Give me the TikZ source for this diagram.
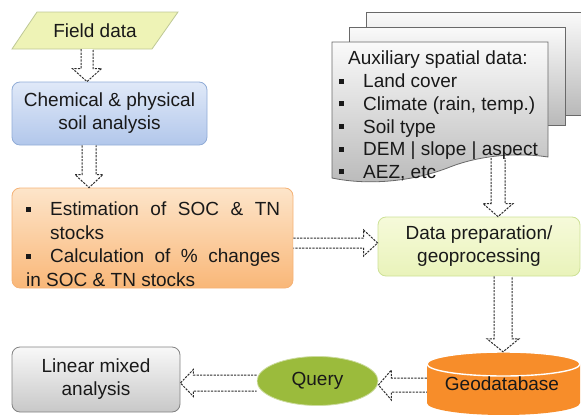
\documentclass[tikz,border=0pt]{standalone}
\usepackage{fontspec}
\setmainfont{Liberation Sans}
\usetikzlibrary{shapes.geometric,calc}
\definecolor{txt}{RGB}{25,25,25}
\definecolor{fieldfill}{RGB}{238,243,182}
\definecolor{fieldline}{RGB}{190,200,150}
\definecolor{chemtop}{RGB}{224,233,248}
\definecolor{chembot}{RGB}{178,199,235}
\definecolor{chemline}{RGB}{145,172,215}
\definecolor{ortop}{RGB}{253,229,202}
\definecolor{orbot}{RGB}{249,183,120}
\definecolor{orline}{RGB}{245,178,118}
\definecolor{dptop}{RGB}{246,250,218}
\definecolor{dpbot}{RGB}{233,243,186}
\definecolor{dpline}{RGB}{205,225,150}
\definecolor{geofill}{RGB}{247,141,42}
\definecolor{qfill}{RGB}{155,187,60}
\definecolor{qline}{RGB}{205,220,160}
\definecolor{lintop}{RGB}{248,248,248}
\definecolor{linbot}{RGB}{200,200,200}
\definecolor{linline}{RGB}{130,130,130}
\definecolor{doctop}{RGB}{250,250,250}
\definecolor{docbot}{RGB}{185,185,185}
\definecolor{docline}{RGB}{105,105,105}
\definecolor{arrline}{RGB}{45,45,45}
\newcommand\sqb{\makebox[24pt][l]{\rule[4pt]{5pt}{5pt}}}
% vertical hollow arrow pointing down: #1 x, #2 start, #3 end, #4 shaft half, #5 head half
\newcommand\vdarr[5]{\draw[hol] let \p1=(#2), \p2=(#3) in
  (#1pt-#4pt,\y1) -- (#1pt-#4pt,\y2+13pt) -- (#1pt-#5pt,\y2+13pt) -- (#1pt,\y2)
  -- (#1pt+#5pt,\y2+13pt) -- (#1pt+#4pt,\y2+13pt) -- (#1pt+#4pt,\y1);}
% horizontal hollow arrow pointing right: #1 y
\newcommand\hrarr[5]{\draw[hol] let \p1=(#2), \p2=(#3) in
  (\x1,-#1pt+#4pt) -- (\x2-14pt,-#1pt+#4pt) -- (\x2-14pt,-#1pt+#5pt) -- (\x2,-#1pt)
  -- (\x2-14pt,-#1pt-#5pt) -- (\x2-14pt,-#1pt-#4pt) -- (\x1,-#1pt-#4pt);}
% horizontal hollow arrow pointing left: #1 y
\newcommand\hlarr[5]{\draw[hol] let \p1=(#2), \p2=(#3) in
  (\x1,-#1pt+#4pt) -- (\x2+13pt,-#1pt+#4pt) -- (\x2+13pt,-#1pt+#5pt) -- (\x2,-#1pt)
  -- (\x2+13pt,-#1pt-#5pt) -- (\x2+13pt,-#1pt-#4pt) -- (\x1,-#1pt-#4pt);}
\begin{document}
\begin{tikzpicture}[x=1pt,y=-1pt,
  font=\fontsize{19}{23}\selectfont, text=txt,
  hol/.style={draw=arrline, fill=white, line width=1pt, dash pattern=on 2.2pt off 1.2pt},
  box/.style={rectangle, rounded corners=8pt, line width=0.8pt, align=center, inner sep=0pt},
  doc/.style={draw=docline, line width=0.8pt, top color=doctop, bottom color=docbot}]
\useasboundingbox (0,0) rectangle (581,415);

% ---- field data ----
\fill[fieldfill, draw=fieldline, line width=0.8pt] (37,12) -- (178,12) -- (152,49) -- (12,49) -- cycle;
\node[minimum width=140pt, minimum height=37pt, inner sep=0pt] (field) at (95,30.5) {Field data};

% ---- boxes ----
\node[box, draw=chemline, top color=chemtop, bottom color=chembot,
  minimum width=195pt, minimum height=63pt] (chem) at (109.5,113.5)
  {Chemical \& physical\\soil analysis};
\node[box, draw=orline, top color=ortop, bottom color=orbot,
  minimum width=281pt, minimum height=100pt] (orange) at (152.5,238) {};
\node[anchor=north west, text width=254pt, align=justify, inner sep=0pt,
  font=\fontsize{19}{23.4}\selectfont] (ortext) at (26,202)
  {\parindent=0pt
   \hangindent=24pt\hangafter=1\sqb Estimation of SOC \& TN\linebreak stocks\par
   \hangindent=24pt\hangafter=1\sqb Calculation of \% changes\linebreak in SOC \& TN stocks};
\node[box, draw=dpline, top color=dptop, bottom color=dpbot,
  minimum width=202pt, minimum height=59pt] (dp) at (479,246.5)
  {Data preparation/\\geoprocessing};
\node[box, draw=linline, top color=lintop, bottom color=linbot,
  minimum width=168pt, minimum height=65pt] (lin) at (96,379.5)
  {Linear mixed\\analysis};

% ---- auxiliary spatial data (stacked documents) ----
\coordinate (auxbot) at (498,158);
\vdarr{498}{auxbot}{dp.north}{7}{15}
\draw[doc] (366,12) rectangle (600,115);
\draw[doc] (349,27) rectangle (565,125);
\draw[doc] (332,42) -- (548,42) -- (548,157)
  .. controls (515,152) and (478,156) .. (450,167)
  .. controls (415,181) and (370,186) .. (332,178) -- cycle;
\node[anchor=north west, align=left, inner sep=0pt,
  font=\fontsize{19}{22.7}\selectfont] (aux) at (339,51)
  {\hspace*{9pt}Auxiliary spatial data:\\
   \sqb Land cover\\
   \sqb Climate (rain, temp.)\\
   \sqb Soil type\\
   \sqb DEM | slope | aspect\\
   \sqb AEZ, etc};

% ---- geodatabase cylinder ----
\fill[geofill] (427,364) -- (427,403)
  .. controls (427,409.6) and (461.2,415) .. (503.5,415)
  .. controls (545.8,415) and (580,409.6) .. (580,403) -- (580,364) -- cycle;
\draw[white, line width=1.4pt, fill=geofill] (503.5,364) ellipse [x radius=76.5, y radius=12];
\node[minimum width=153pt, minimum height=63pt, inner sep=0pt] (geo) at (503.5,383.5) {};
\node[inner sep=0pt] (geotext) at (502,384) {Geodatabase};

% ---- query ----
\node[ellipse, draw=qline, line width=0.8pt, fill=qfill,
  minimum width=121pt, minimum height=49pt, inner sep=0pt] (query) at (317.5,381) {Query};

% ---- hollow dashed arrows ----
\vdarr{87}{field.south}{chem.north}{6}{14.5}
\vdarr{89}{chem.south}{orange.north}{7}{14}
\hrarr{243}{orange.east}{dp.west}{5}{13}
\vdarr{503}{dp.south}{geo.north}{9}{16}
\hlarr{385}{geo.west}{query.east}{7}{15}
\hlarr{383}{query.west}{lin.east}{8}{13.5}
\end{tikzpicture}
\end{document}
